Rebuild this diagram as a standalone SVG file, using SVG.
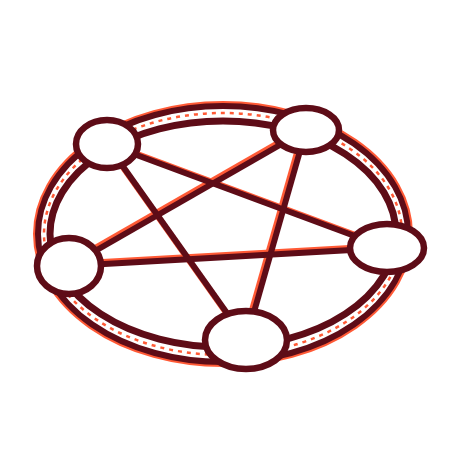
<svg xmlns="http://www.w3.org/2000/svg" width="450" height="450" viewBox="0 0 450 450">
<style>
.hl{fill:none;stroke:#ff5a36;stroke-width:6}
.dk{fill:none;stroke:#5e0c17;stroke-width:6}
.dash{fill:none;stroke:#ff5a36;stroke-width:2.5;stroke-dasharray:4 5}
.node{fill:#ffffff;stroke:#5e0c17;stroke-width:6.5}
</style>
<rect width="450" height="450" fill="#ffffff"/>
<g id="ring">
<ellipse cx="223" cy="234" rx="187" ry="130" fill="none" stroke="#ff5a36" stroke-width="6"/>
<ellipse cx="223" cy="234" rx="185" ry="128" fill="none" stroke="#5e0c17" stroke-width="6"/>
<ellipse cx="223" cy="234" rx="179" ry="121" class="dash"/>
<ellipse cx="223" cy="234" rx="173" ry="113" fill="none" stroke="#5e0c17" stroke-width="7"/>
</g>
<g id="connectors">
<g transform="translate(-2,-2)">
<line class="hl" x1="107" y1="144" x2="387" y2="248"/>
<line class="hl" x1="107" y1="144" x2="246" y2="340"/>
<line class="hl" x1="306" y1="130" x2="69" y2="266"/>
<line class="hl" x1="306" y1="130" x2="246" y2="340"/>
<line class="hl" x1="69" y1="266" x2="387" y2="248"/>
</g>
<line class="dk" x1="107" y1="144" x2="387" y2="248"/>
<line class="dk" x1="107" y1="144" x2="246" y2="340"/>
<line class="dk" x1="306" y1="130" x2="69" y2="266"/>
<line class="dk" x1="306" y1="130" x2="246" y2="340"/>
<line class="dk" x1="69" y1="266" x2="387" y2="248"/>
</g>
<g id="node-top-left"><ellipse class="node" cx="107" cy="144" rx="31" ry="24"/></g>
<g id="node-top-right"><ellipse class="node" cx="306" cy="130" rx="33" ry="22"/></g>
<g id="node-right"><ellipse class="node" cx="387" cy="248" rx="37" ry="24"/></g>
<g id="node-left"><ellipse class="node" cx="69" cy="266" rx="32" ry="28"/></g>
<g id="node-bottom"><ellipse class="node" cx="246" cy="340" rx="41" ry="29"/></g>
</svg>
